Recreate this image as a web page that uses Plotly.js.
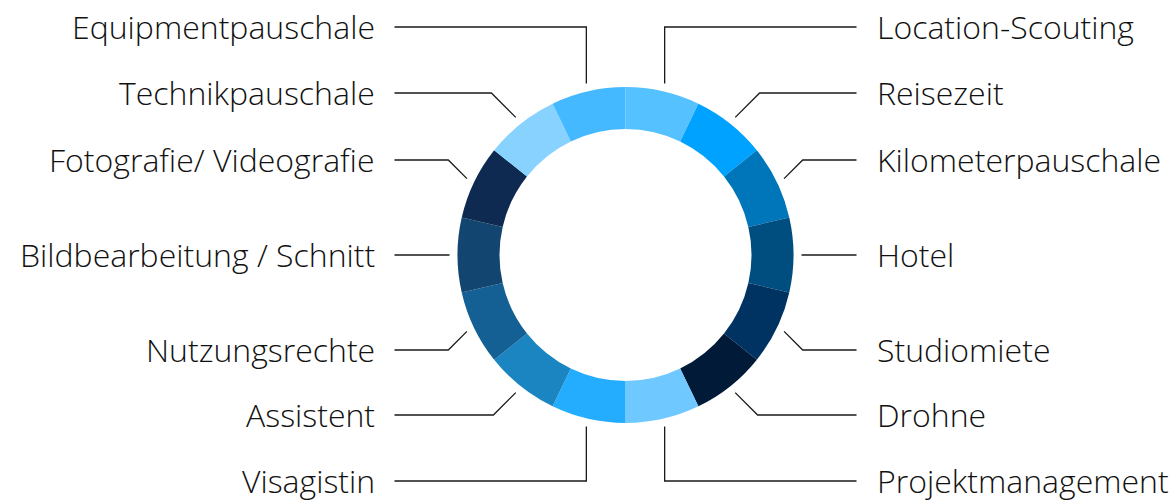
<!DOCTYPE html>
<html>
<head>
<meta charset="utf-8">
<script src="https://cdn.plot.ly/plotly-3.0.1.min.js"></script>
<style>html,body{margin:0;padding:0;background:#fff;}#chart{width:1175px;height:501px;}</style>
</head>
<body>
<div id="chart"></div>
<script>
// ---- data ----
const categories = [
  "Location-Scouting", "Reisezeit", "Kilometerpauschale", "Hotel", "Studiomiete",
  "Drohne", "Projektmanagement", "Visagistin", "Assistent", "Nutzungsrechte",
  "Bildbearbeitung / Schnitt", "Fotografie/ Videografie", "Technikpauschale", "Equipmentpauschale"
];
const values = [1, 1, 1, 1, 1, 1, 1, 1, 1, 1, 1, 1, 1, 1];
const colors = [
  "#56C1FF", "#00A2FF", "#0076BA", "#004D80", "#003262",
  "#011A38", "#6FC8FF", "#24ADFF", "#1B85C2", "#145F93",
  "#12456F", "#0E2A51", "#87D2FF", "#44B9FF"
];

// ---- layout constants (pixels) ----
const W = 1175, H = 501;
const cx = 625.5, cy = 255, R = 168;
const startR = 176;          // leader start radius
const lineEndDX = 231;       // horizontal end of leader from centre
const textGap = 18;
const rightLabelDY = [-228, -162, -95, 0, 95, 160, 226];

const total = values.reduce((a, b) => a + b, 0);
const shapes = [], annotations = [];
let cum = 0;
values.forEach((v, i) => {
  const mid = (cum + v / 2) / total * 2 * Math.PI;
  cum += v;
  const s = Math.sin(mid), c = Math.cos(mid);
  const right = s >= 0;
  const sx = cx + startR * s, sy = cy - startR * c;
  const side = right ? 1 : -1;
  const k = right ? i : (values.length - 1 - i);
  const ly = cy + rightLabelDY[Math.min(k, rightLabelDY.length - 1)];
  let ex;
  if (Math.abs(s) < 0.3) ex = sx;
  else ex = sx + side * Math.abs(ly - sy);
  const endX = cx + side * lineEndDX;
  shapes.push({
    type: "path", xref: "x", yref: "y",
    path: `M${sx},${sy} L${ex},${ly} L${endX},${ly}`,
    line: {color: "#1a1a1a", width: 1.3}
  });
  annotations.push({
    xref: "x", yref: "y", x: endX + side * textGap, y: ly - 1,
    text: categories[i], showarrow: false,
    xanchor: right ? "left" : "right", yanchor: "middle",
    font: {family: "'Open Sans', 'Noto Sans', sans-serif", size: 32, weight: 300, color: "#111"}
  });
});

const trace = {
  type: "pie",
  values: values,
  labels: categories,
  marker: {colors: colors, line: {width: 0}},
  hole: 0.75,
  sort: false,
  direction: "clockwise",
  rotation: 0,
  textinfo: "none",
  hoverinfo: "label",
  showlegend: false,
  domain: {
    x: [(cx - R) / W, (cx + R) / W],
    y: [(H - cy - R) / H, (H - cy + R) / H]
  }
};

const layout = {
  width: W, height: H,
  margin: {l: 0, r: 0, t: 0, b: 0, pad: 0},
  paper_bgcolor: "#fff", plot_bgcolor: "rgba(0,0,0,0)",
  showlegend: false,
  xaxis: {range: [0, W], visible: false, fixedrange: true, domain: [0, 1]},
  yaxis: {range: [H, 0], visible: false, fixedrange: true, domain: [0, 1]},
  shapes: shapes,
  annotations: annotations
};

Plotly.newPlot("chart", [trace], layout, {displayModeBar: false, staticPlot: true});
</script>
</body>
</html>
